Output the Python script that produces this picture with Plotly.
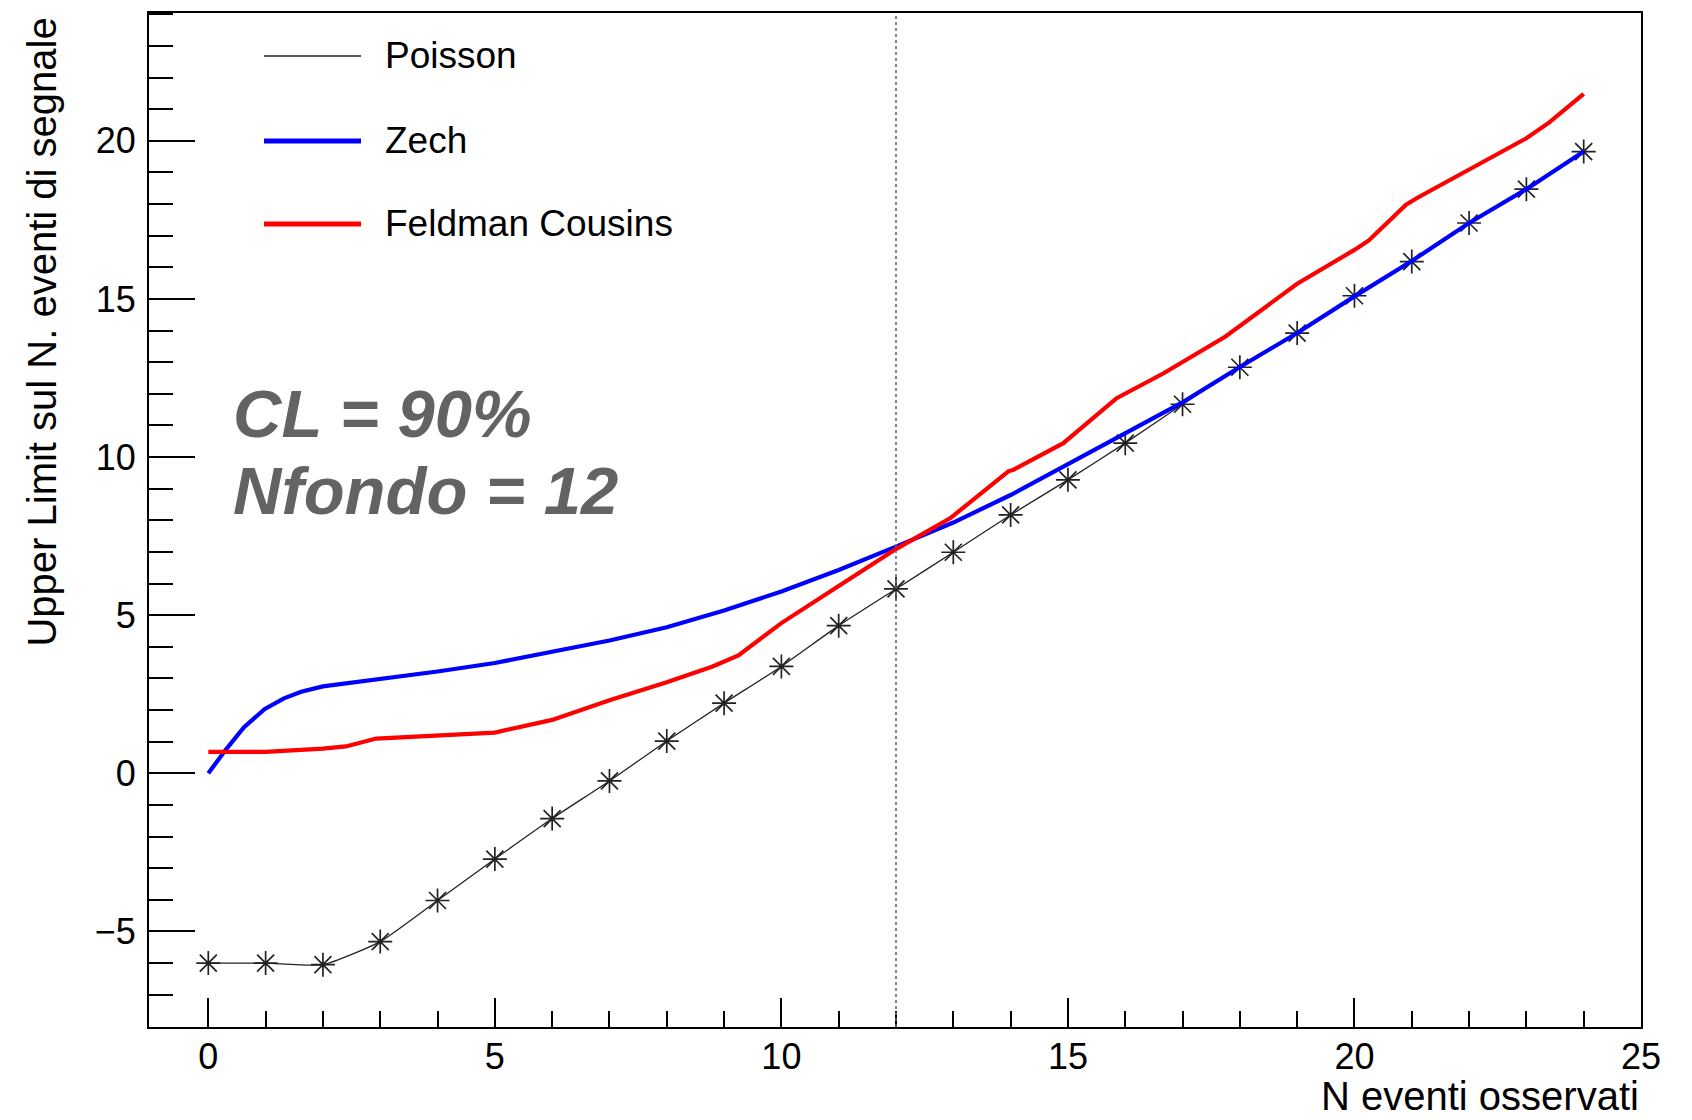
import plotly.graph_objects as go

# ---------------- data ----------------
n_obs = list(range(25))
poisson_ul = [-6.0, -6.0, -6.05, -5.32, -4.02, -2.71, -1.43, -0.24, 1.02, 2.22,
              3.38, 4.67, 5.83, 6.99, 8.17, 9.28, 10.44, 11.67, 12.84, 13.92,
              15.10, 16.18, 17.40, 18.47, 19.66]

zech_n = [0, 0.31, 0.62, 0.98, 1.32, 1.62, 2.0, 3, 4, 5, 6, 7, 8, 9, 10, 11, 12,
          13, 14, 15, 16, 17, 18, 19, 20, 21, 22, 23, 24]
zech_ul = [0.0, 0.76, 1.45, 2.03, 2.37, 2.58, 2.75, 2.98, 3.22, 3.49, 3.83, 4.20,
           4.62, 5.15, 5.75, 6.43, 7.17, 7.93, 8.80, 9.78, 10.75, 11.73, 12.85,
           13.92, 15.08, 16.20, 17.40, 18.47, 19.66]

fc_n = [0, 1, 2, 2.4, 2.93, 5, 6, 7, 8, 8.8, 9.25, 10, 11, 12, 12.95, 13.96,
        14.05, 14.92, 15.85, 16.67, 17.75, 19, 20, 20.25, 20.9, 21.1, 23, 23.4, 24]
fc_ul = [0.68, 0.68, 0.78, 0.85, 1.10, 1.29, 1.69, 2.31, 2.88, 3.38, 3.73, 4.75,
         5.92, 7.09, 8.07, 9.55, 9.60, 10.44, 11.86, 12.65, 13.81, 15.48, 16.55,
         16.85, 17.98, 18.20, 20.08, 20.58, 21.48]

n_background = 12
legend_labels = ["Poisson", "Zech", "Feldman Cousins"]
x_title = "N eventi osservati"
y_title = "Upper Limit sul N. eventi di segnale"
info_lines = ["CL = 90%", "Nfondo = 12"]
x_minor = [v for v in range(0, 25) if v % 5 != 0]
y_minor = [v for v in range(-8, 25) if v % 5 != 0]

# ---------------- figure ----------------
W, H = 1692, 1120
L, R, T, B = 149, 51, 13, 93
PW, PH = W - L - R, H - T - B

def px2paper(px, py):
    return (px - L) / PW, (H - B - py) / PH

FONT = "Liberation Sans, Arial, Helvetica, sans-serif"
BLUE = "#0000ff"
RED = "#ff0000"

fig = go.Figure()

fig.add_trace(go.Scatter(
    x=n_obs, y=poisson_ul, mode="lines+markers", name=legend_labels[0],
    line=dict(color="#222222", width=1.3, shape="spline", smoothing=0.5),
    marker=dict(symbol="asterisk-open", size=20,
                line=dict(color="rgba(35,35,35,0.72)", width=1.7)),
    showlegend=False))

fig.add_trace(go.Scatter(
    x=zech_n, y=zech_ul, mode="lines", name=legend_labels[1],
    line=dict(color=BLUE, width=4.2), showlegend=False))

fig.add_trace(go.Scatter(
    x=fc_n, y=fc_ul, mode="lines", name=legend_labels[2],
    line=dict(color=RED, width=4.2), showlegend=False))

# vertical dotted line at the background value
fig.add_shape(type="line", xref="x", yref="paper", x0=n_background, x1=n_background,
              y0=0, y1=1, line=dict(color="#666666", width=1.6, dash="dot"))

# manual legend (ROOT style long line samples)
leg_specs = [(legend_labels[0], "#222222", 1.5, 56),
             (legend_labels[1], BLUE, 5, 141),
             (legend_labels[2], RED, 5, 224)]
for label, col, lw, py in leg_specs:
    x0, y0 = px2paper(264, py)
    x1, _ = px2paper(361, py)
    fig.add_shape(type="line", xref="paper", yref="paper", x0=x0, x1=x1, y0=y0, y1=y0,
                  line=dict(color=col, width=lw))
    tx, ty = px2paper(383, py)
    fig.add_annotation(xref="paper", yref="paper", x=tx, y=ty, text=label,
                       showarrow=False, xanchor="left", yanchor="middle",
                       font=dict(family=FONT, size=37, color="black"))

# info text
for line, py in zip(info_lines, [413, 491]):
    tx, ty = px2paper(231, py)
    fig.add_annotation(xref="paper", yref="paper", x=tx, y=ty, text=f"<b><i>{line}</i></b>",
                       showarrow=False, xanchor="left", yanchor="middle",
                       font=dict(family=FONT, size=67, color="#636363"))

# axis titles
fig.add_annotation(xref="paper", yref="paper", x=1.0, y=px2paper(0, 1120)[1],
                   text=x_title, showarrow=False, xanchor="right", yanchor="bottom",
                   font=dict(family=FONT, size=40, color="black"))
fig.add_annotation(xref="paper", yref="paper", x=px2paper(42, 0)[0], y=0.997,
                   text=y_title, textangle=-90, showarrow=False,
                   xanchor="center", yanchor="top",
                   font=dict(family=FONT, size=40, color="black"))

fig.update_layout(
    width=W, height=H,
    margin=dict(l=L, r=R, t=T, b=B, pad=0),
    paper_bgcolor="white", plot_bgcolor="white",
    font=dict(family=FONT, size=36, color="black"),
    showlegend=False,
)

fig.update_xaxes(
    range=[-1.035, 25.0], tickmode="linear", tick0=0, dtick=5,
    ticks="inside", ticklen=29, tickwidth=2, tickcolor="black",
    minor=dict(ticks="inside", ticklen=16, tickwidth=2, tickcolor="black",
               tickmode="array", tickvals=x_minor, showgrid=False),
    showline=True, linecolor="black", linewidth=2, mirror=True,
    showgrid=False, zeroline=False, tickfont=dict(size=36), ticklabelstandoff=-3,
)
fig.update_yaxes(
    range=[-8.02, 24.04], tickmode="linear", tick0=0, dtick=5,
    ticks="inside", ticklen=46, tickwidth=2, tickcolor="black",
    minor=dict(ticks="inside", ticklen=24, tickwidth=2, tickcolor="black",
               tickmode="array", tickvals=y_minor, showgrid=False),
    showline=True, linecolor="black", linewidth=2, mirror=True,
    showgrid=False, zeroline=False, tickfont=dict(size=36), ticklabelstandoff=4,
)

fig.write_html("out.html")
